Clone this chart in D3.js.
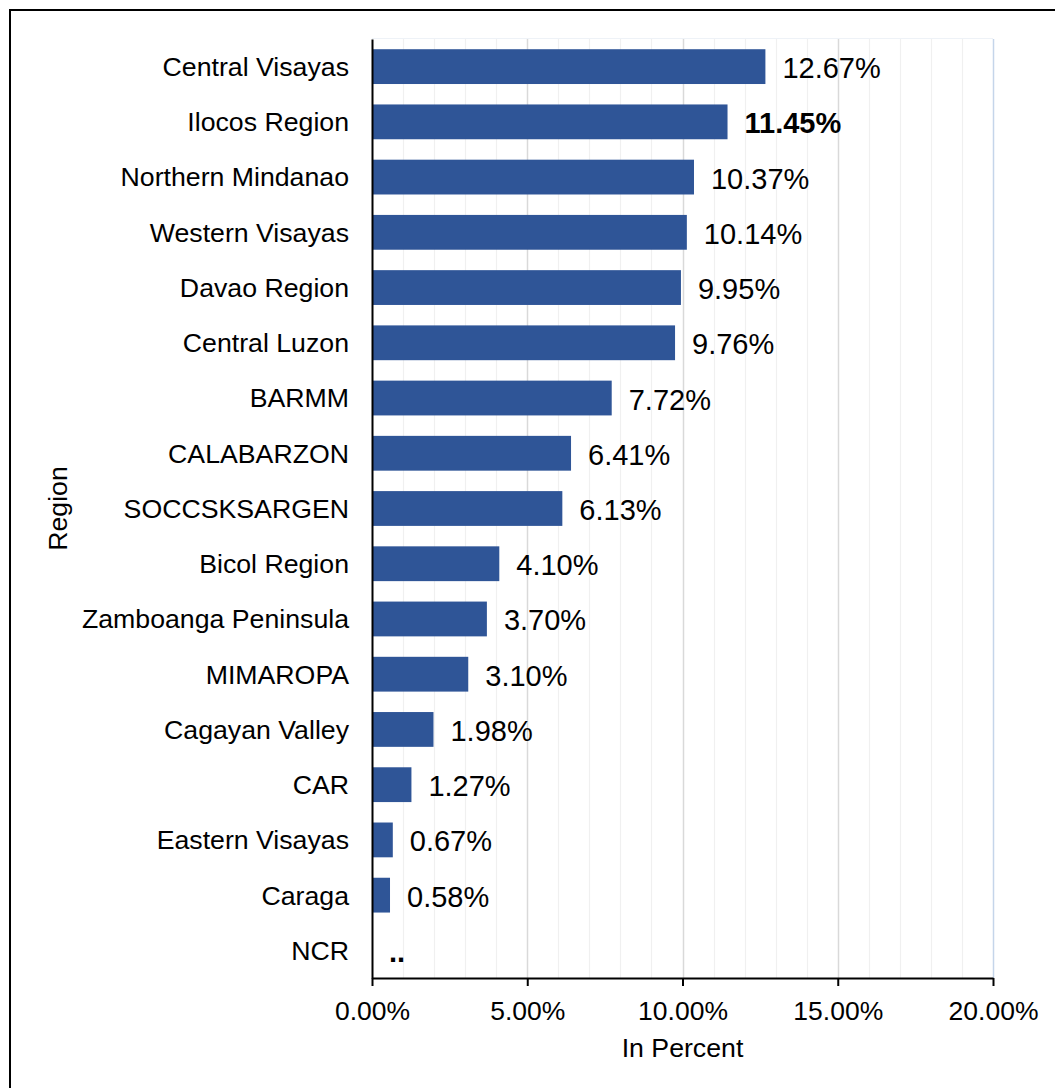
<!DOCTYPE html>
<html>
<head>
<meta charset="utf-8">
<script src="https://cdn.jsdelivr.net/npm/d3@7"></script>
<style>
  body { margin: 0; background: #fff; }
  svg { font-family: Arial, "Liberation Sans", sans-serif; }
</style>
</head>
<body>
<div id="bar-chart"></div>
<script>
// regions, top to bottom
var regions = ["Central Visayas", "Ilocos Region", "Northern Mindanao", "Western Visayas",
    "Davao Region", "Central Luzon", "BARMM", "CALABARZON", "SOCCSKSARGEN", "Bicol Region",
    "Zamboanga Peninsula", "MIMAROPA", "Cagayan Valley", "CAR", "Eastern Visayas", "Caraga", "NCR"];
// in percent, null = not available ("..")
var values = [12.67, 11.45, 10.37, 10.14, 9.95, 9.76, 7.72, 6.41, 6.13, 4.10,
    3.70, 3.10, 1.98, 1.27, 0.67, 0.58, null];
var highlighted = ["Ilocos Region"];
var x_ticks = [0, 5, 10, 15, 20];
var minor_ticks = d3.range(0, 21, 1);

const margin = { top: 39, bottom: 110, left: 372, right: 62 };
const W = 1055, H = 1088;
const width = W - margin.left - margin.right;
const height = H - margin.top - margin.bottom;

var data = regions.map(function (r, i) {
    return { region: r, value: values[i] };
});

var svg = d3.select("#bar-chart")
    .append("svg")
    .attr("width", W)
    .attr("height", H);

// outer frame
svg.append("rect")
    .attr("x", 10).attr("y", 10)
    .attr("width", W + 20).attr("height", H + 20)
    .attr("fill", "none")
    .attr("stroke", "#000")
    .attr("stroke-width", 2);

var canvas = svg.append("g")
    .attr("transform", `translate(${margin.left},${margin.top})`);

var xScale = d3.scaleLinear().domain([0, 20]).range([0, width]);
var yScale = d3.scaleBand().domain(regions).range([0, height])
    .paddingInner(0.37).paddingOuter(0.185);

// top edge of plot area
canvas.append("line")
    .attr("x1", 0).attr("x2", width)
    .attr("y1", -0.5).attr("y2", -0.5)
    .attr("stroke", "#eef2f7").attr("stroke-width", 1);

// gridlines
canvas.append("g")
    .selectAll("line")
    .data(minor_ticks.filter(function (d) { return d > 0; }))
    .join("line")
    .attr("x1", function (d) { return Math.round(xScale(d)) + 0.5; })
    .attr("x2", function (d) { return Math.round(xScale(d)) + 0.5; })
    .attr("y1", 0).attr("y2", height)
    .attr("stroke", function (d) {
        if (d === 20) return "#c5d5ea";
        return d % 5 === 0 ? "#d9d9d9" : "#f0f0f0";
    })
    .attr("stroke-width", function (d) { return d % 5 === 0 ? 1.5 : 1.2; });

// bars
canvas.append("g")
    .selectAll("rect")
    .data(data.filter(function (d) { return d.value !== null; }))
    .join("rect")
    .attr("x", 0)
    .attr("y", function (d) { return yScale(d.region); })
    .attr("width", function (d) { return xScale(d.value); })
    .attr("height", yScale.bandwidth())
    .attr("fill", "#2f5597");

// value labels
canvas.append("g")
    .selectAll("text")
    .data(data)
    .join("text")
    .attr("x", function (d) { return xScale(d.value === null ? 0 : d.value) + 17; })
    .attr("y", function (d) { return yScale(d.region) + yScale.bandwidth() / 2 + 11.5; })
    .attr("font-size", 29)
    .attr("font-weight", function (d) {
        return (d.value === null || highlighted.indexOf(d.region) >= 0) ? "bold" : "normal";
    })
    .attr("fill", "#000")
    .text(function (d) { return d.value === null ? ".." : d.value.toFixed(2) + "%"; });

// y axis
var yAxis = canvas.append("g")
    .call(d3.axisLeft(yScale).tickSize(0).tickSizeOuter(0).tickPadding(23));
yAxis.select(".domain").attr("stroke", "#000").attr("stroke-width", 2);
yAxis.selectAll("text").attr("font-size", 26.7).attr("font-family", null)
    .attr("dy", "0.35em").attr("fill", "#000");

// x axis
var xAxis = canvas.append("g")
    .attr("transform", "translate(0," + height + ")")
    .call(d3.axisBottom(xScale).tickValues(x_ticks).tickSize(8).tickSizeOuter(0).tickPadding(15)
        .tickFormat(function (d) { return d.toFixed(2) + "%"; }));
xAxis.select(".domain").attr("stroke", "#000").attr("stroke-width", 2);
xAxis.selectAll(".tick line").attr("stroke", "#000").attr("stroke-width", 2);
xAxis.selectAll("text").attr("font-size", 26.5).attr("font-family", null).attr("fill", "#000");

// axis titles
svg.append("text")
    .attr("x", margin.left + width / 2)
    .attr("y", 1057)
    .attr("text-anchor", "middle")
    .attr("font-size", 26.7)
    .text("In Percent");

svg.append("text")
    .attr("transform", "translate(67," + (margin.top + height / 2) + ") rotate(-90)")
    .attr("text-anchor", "middle")
    .attr("font-size", 26.7)
    .text("Region");
</script>
</body>
</html>
